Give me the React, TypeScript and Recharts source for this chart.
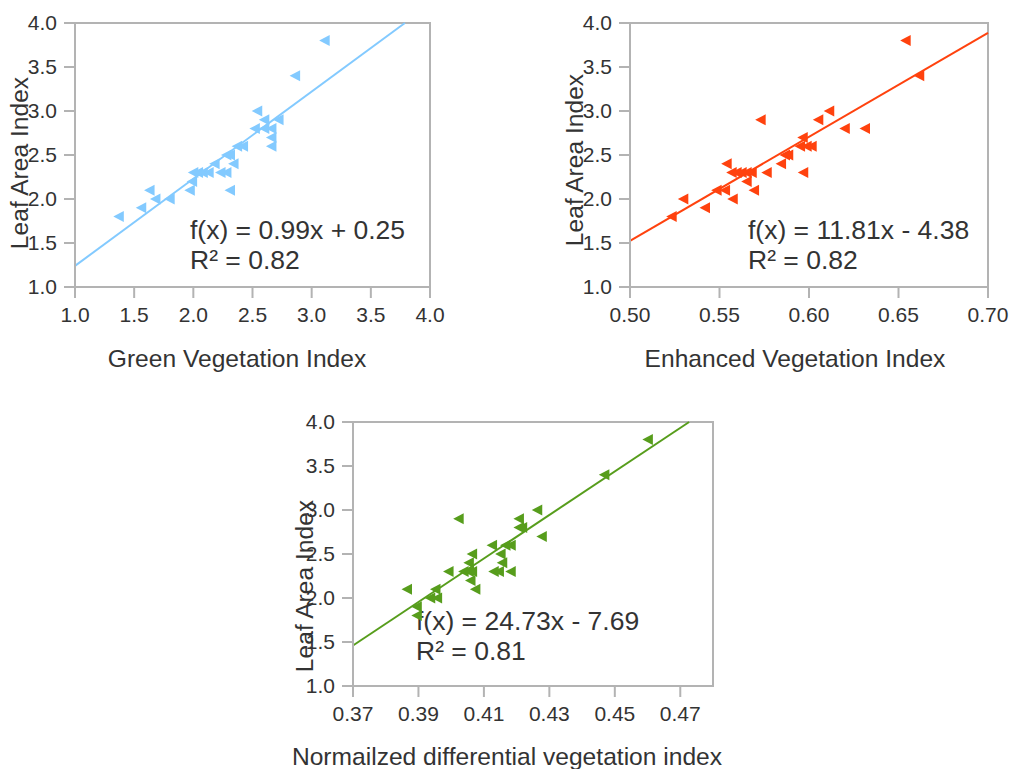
import React from "react";
import {
  ScatterChart,
  Scatter,
  XAxis,
  YAxis,
  ReferenceLine,
  ReferenceArea,
} from "recharts";

// Green vegetation index vs leaf area index
const gviX = [1.37, 1.56, 1.63, 1.68, 1.8, 1.97, 1.99, 2.0, 2.04, 2.08, 2.13, 2.18, 2.23, 2.28, 2.31, 2.28, 2.31, 2.34, 2.37, 2.42, 2.52, 2.54, 2.6, 2.6, 2.66, 2.66, 2.66, 2.72, 2.86, 3.11];
const gviLai = [1.8, 1.9, 2.1, 2.0, 2.0, 2.1, 2.2, 2.3, 2.3, 2.3, 2.3, 2.4, 2.3, 2.3, 2.1, 2.5, 2.5, 2.4, 2.6, 2.6, 2.8, 3.0, 2.9, 2.8, 2.8, 2.7, 2.6, 2.9, 3.4, 3.8];

// Enhanced vegetation index vs leaf area index
const eviX = [0.5233, 0.5419, 0.5298, 0.5574, 0.5484, 0.5531, 0.5693, 0.5652, 0.5568, 0.5596, 0.5624, 0.5652, 0.568, 0.5764, 0.5968, 0.554, 0.5844, 0.5866, 0.5884, 0.595, 0.5987, 0.6015, 0.5965, 0.62, 0.6313, 0.573, 0.6052, 0.6113, 0.6616, 0.654];
const eviLai = [1.8, 1.9, 2.0, 2.0, 2.1, 2.1, 2.1, 2.2, 2.3, 2.3, 2.3, 2.3, 2.3, 2.3, 2.3, 2.4, 2.4, 2.5, 2.5, 2.6, 2.6, 2.6, 2.7, 2.8, 2.8, 2.9, 2.9, 3.0, 3.4, 3.8];

// Normalised differential vegetation index vs leaf area index
const ndviX = [0.3895, 0.3895, 0.3936, 0.3957, 0.3865, 0.3952, 0.4074, 0.4059, 0.3992, 0.4038, 0.4054, 0.4064, 0.413, 0.4146, 0.4182, 0.4054, 0.4156, 0.4064, 0.4151, 0.4125, 0.4166, 0.4182, 0.4277, 0.4207, 0.4217, 0.4023, 0.4207, 0.4263, 0.4468, 0.4601];
const ndviLai = [1.8, 1.9, 2.0, 2.0, 2.1, 2.1, 2.1, 2.2, 2.3, 2.3, 2.3, 2.3, 2.3, 2.3, 2.3, 2.4, 2.4, 2.5, 2.5, 2.6, 2.6, 2.6, 2.7, 2.8, 2.8, 2.9, 2.9, 3.0, 3.4, 3.8];

const laiTicks = [1.0, 1.5, 2.0, 2.5, 3.0, 3.5, 4.0];
const gviTicks = [1.0, 1.5, 2.0, 2.5, 3.0, 3.5, 4.0];
const eviTicks = [0.5, 0.55, 0.6, 0.65, 0.7];
const ndviTicks = [0.37, 0.39, 0.41, 0.43, 0.45, 0.47];

const FONT = "'Liberation Sans', Arial, sans-serif";
const AXIS = "#b3b3b3";
const TEXT = "#333333";

type PanelProps = {
  left: number;
  top: number;
  width: number;
  height: number;
  right: number;
  xs: number[];
  ys: number[];
  xDomain: [number, number];
  xTicks: number[];
  digits: number;
  color: string;
  slope: number;
  intercept: number;
  equation: string;
  r2: string;
  eqPos: [number, number];
  xTitle: string;
  xTitlePos: [number, number];
  yTitlePos: [number, number];
};

const PLOT_H = 264;
const Y_DOMAIN: [number, number] = [1, 4];

// clip y = m*x + b to the plot rectangle
function trendSegment(m: number, b: number, xd: [number, number], yd: [number, number]) {
  let x0 = xd[0];
  let y0 = m * x0 + b;
  if (y0 < yd[0]) { y0 = yd[0]; x0 = (y0 - b) / m; }
  let x1 = xd[1];
  let y1 = m * x1 + b;
  if (y1 > yd[1]) { y1 = yd[1]; x1 = (y1 - b) / m; }
  return [{ x: x0, y: y0 }, { x: x1, y: y1 }];
}

function Panel(p: PanelProps) {
  const data = p.xs.map((x, i) => ({ x, y: p.ys[i] }));
  const xAxisH = 40;
  const bottom = p.height - 23 - PLOT_H - xAxisH;

  const marker = (props: any) => {
    const { cx, cy } = props;
    return (
      <polygon
        points={`${cx - 5.5},${cy} ${cx + 5},${cy - 5.5} ${cx + 5},${cy + 5.5}`}
        fill={p.color}
      />
    );
  };

  return (
    <div style={{ position: "absolute", left: p.left, top: p.top, width: p.width, height: p.height }}>
      <ScatterChart
        width={p.width}
        height={p.height}
        margin={{ top: 23, right: p.right, bottom, left: 0 }}
      >
        <XAxis
          type="number"
          dataKey="x"
          domain={p.xDomain}
          ticks={p.xTicks}
          allowDataOverflow
          height={xAxisH}
          tickFormatter={(v: number) => v.toFixed(p.digits)}
          tick={{ fill: TEXT, fontSize: 21, fontFamily: FONT }}
          tickSize={11}
          tickMargin={9}
          axisLine={{ stroke: AXIS, strokeWidth: 2 }}
          tickLine={{ stroke: AXIS, strokeWidth: 2 }}
          label={{
            content: () => (
              <text
                x={p.xTitlePos[0]}
                y={p.xTitlePos[1]}
                textAnchor="middle"
                fill={TEXT}
                fontSize={24.6}
                fontFamily={FONT}
              >
                {p.xTitle}
              </text>
            ),
          }}
        />
        <YAxis
          type="number"
          dataKey="y"
          domain={Y_DOMAIN}
          ticks={laiTicks}
          allowDataOverflow
          width={75}
          tickFormatter={(v: number) => v.toFixed(1)}
          tick={{ fill: TEXT, fontSize: 21, fontFamily: FONT }}
          tickSize={11}
          tickMargin={7}
          axisLine={{ stroke: AXIS, strokeWidth: 2 }}
          tickLine={{ stroke: AXIS, strokeWidth: 2 }}
          label={{
            content: () => (
              <text
                x={p.yTitlePos[0]}
                y={p.yTitlePos[1]}
                textAnchor="middle"
                transform={`rotate(-90 ${p.yTitlePos[0]} ${p.yTitlePos[1]})`}
                fill={TEXT}
                fontSize={24.6}
                fontFamily={FONT}
              >
                Leaf Area Index
              </text>
            ),
          }}
        />
        <ReferenceArea
          x1={p.xDomain[0]}
          x2={p.xDomain[1]}
          y1={Y_DOMAIN[0]}
          y2={Y_DOMAIN[1]}
          fill="none"
          stroke={AXIS}
          strokeWidth={2}
          fillOpacity={0}
        />
        <Scatter data={data} shape={marker} isAnimationActive={false} />
        <ReferenceLine
          segment={trendSegment(p.slope, p.intercept, p.xDomain, Y_DOMAIN)}
          stroke={p.color}
          strokeWidth={2}
          ifOverflow="visible"
          label={{
            content: () => (
              <text fill={TEXT} fontSize={26.5} fontFamily={FONT}>
                <tspan x={p.eqPos[0]} y={p.eqPos[1]}>{p.equation}</tspan>
                <tspan x={p.eqPos[0]} y={p.eqPos[1] + 30}>{p.r2}</tspan>
              </text>
            ),
          }}
        />
      </ScatterChart>
    </div>
  );
}

export default function App() {
  return (
    <div style={{ position: "absolute", left: 0, top: 0, width: 1011, height: 769, background: "#fff", fontFamily: FONT, overflow: "hidden" }}>
      <Panel
        left={0}
        top={0}
        width={450}
        height={385}
        right={20}
        xs={gviX}
        ys={gviLai}
        xDomain={[1, 4]}
        xTicks={gviTicks}
        digits={1}
        color="#83caff"
        slope={0.99}
        intercept={0.25}
        equation="f(x) = 0.99x + 0.25"
        r2="R² = 0.82"
        eqPos={[190, 239]}
        xTitle="Green Vegetation Index"
        xTitlePos={[237, 367]}
        yTitlePos={[28, 163]}
      />
      <Panel
        left={555}
        top={0}
        width={456}
        height={385}
        right={23}
        xs={eviX}
        ys={eviLai}
        xDomain={[0.5, 0.7]}
        xTicks={eviTicks}
        digits={2}
        color="#ff420e"
        slope={11.81}
        intercept={-4.38}
        equation="f(x) = 11.81x - 4.38"
        r2="R² = 0.82"
        eqPos={[193, 239]}
        xTitle="Enhanced Vegetation Index"
        xTitlePos={[240, 367]}
        yTitlePos={[28, 160]}
      />
      <Panel
        left={278}
        top={399}
        width={450}
        height={370}
        right={15}
        xs={ndviX}
        ys={ndviLai}
        xDomain={[0.37, 0.48]}
        xTicks={ndviTicks}
        digits={2}
        color="#579d1c"
        slope={24.73}
        intercept={-7.69}
        equation="f(x) = 24.73x - 7.69"
        r2="R² = 0.81"
        eqPos={[138, 231]}
        xTitle="Normailzed differential vegetation index"
        xTitlePos={[229, 366]}
        yTitlePos={[35, 187]}
      />
    </div>
  );
}
